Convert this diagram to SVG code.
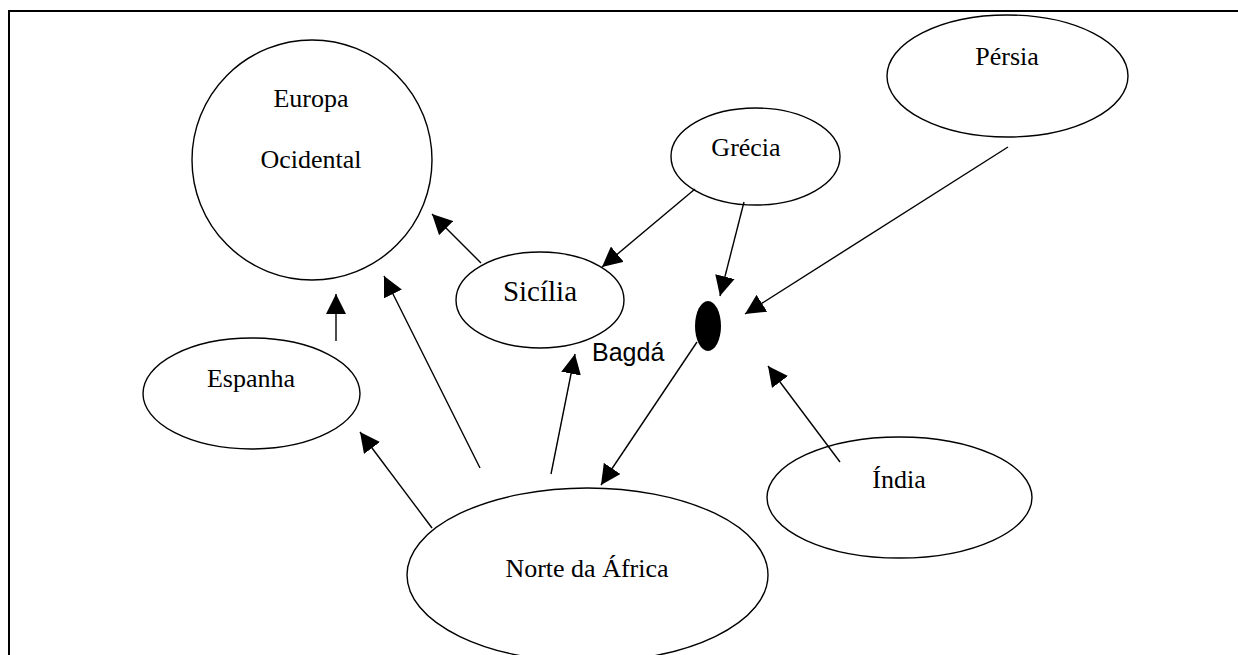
<svg xmlns="http://www.w3.org/2000/svg" width="1238" height="655" viewBox="0 0 1238 655">
<defs>
<style>
.node{fill:#fff;stroke:#000;stroke-width:1.4}
.lbl{font-family:"Liberation Serif","Times New Roman",serif;font-size:26px;fill:#000;text-anchor:middle}
.edge{stroke:#000;stroke-width:1.4;fill:none;marker-end:url(#ah)}
</style>
<marker id="ah" markerUnits="userSpaceOnUse" markerWidth="20" markerHeight="20" refX="20" refY="10" orient="auto" viewBox="0 0 20 20">
<path d="M0,0 L20,10 L0,20 Z" fill="#000"/>
</marker>
</defs>
<rect width="1238" height="655" fill="#fff"/>
<g id="frame" stroke="#000" stroke-width="2" fill="none">
<path d="M9,655 V11 H1238"/>
</g>
<g id="europa">
<circle class="node" cx="312" cy="160" r="120"/>
<text class="lbl" x="311" y="107">Europa</text>
<text class="lbl" x="311" y="168">Ocidental</text>
</g>
<g id="sicilia">
<ellipse class="node" cx="540" cy="300" rx="84" ry="48"/>
<text class="lbl" x="540" y="301" style="font-size:29px">Sicília</text>
</g>
<g id="grecia">
<ellipse class="node" cx="755.5" cy="156.5" rx="84.5" ry="48.5"/>
<text class="lbl" x="746" y="156">Grécia</text>
</g>
<g id="persia">
<ellipse class="node" cx="1007.5" cy="76" rx="120.5" ry="61"/>
<text class="lbl" x="1007" y="65">Pérsia</text>
</g>
<g id="espanha">
<ellipse class="node" cx="251.5" cy="393.5" rx="108.5" ry="55.5"/>
<text class="lbl" x="251" y="387">Espanha</text>
</g>
<g id="india">
<ellipse class="node" cx="899.5" cy="497.5" rx="132.5" ry="60.5"/>
<text class="lbl" x="899" y="488">Índia</text>
</g>
<g id="norte">
<ellipse class="node" cx="587.5" cy="575" rx="180.5" ry="87"/>
<text class="lbl" x="587" y="577">Norte da África</text>
</g>
<g id="bagda">
<ellipse cx="708" cy="326" rx="13" ry="25" fill="#000"/>
<text x="592" y="361" style="font-family:'Liberation Sans',Arial,sans-serif;font-size:25px;fill:#000">Bagdá</text>
</g>
<g id="connectors">
<line class="edge" x1="481" y1="263" x2="432" y2="214"/>
<line class="edge" x1="695" y1="189" x2="602" y2="267"/>
<line class="edge" x1="744" y1="202" x2="720" y2="296"/>
<line class="edge" x1="1008" y1="147" x2="745" y2="314"/>
<line class="edge" x1="336" y1="341" x2="336" y2="294"/>
<line class="edge" x1="432" y1="528" x2="360" y2="432"/>
<line class="edge" x1="480" y1="468" x2="384" y2="276"/>
<line class="edge" x1="551" y1="474" x2="575" y2="354"/>
<line class="edge" x1="697" y1="342" x2="601" y2="485"/>
<line class="edge" x1="840" y1="462" x2="768" y2="366"/>
</g>
</svg>
